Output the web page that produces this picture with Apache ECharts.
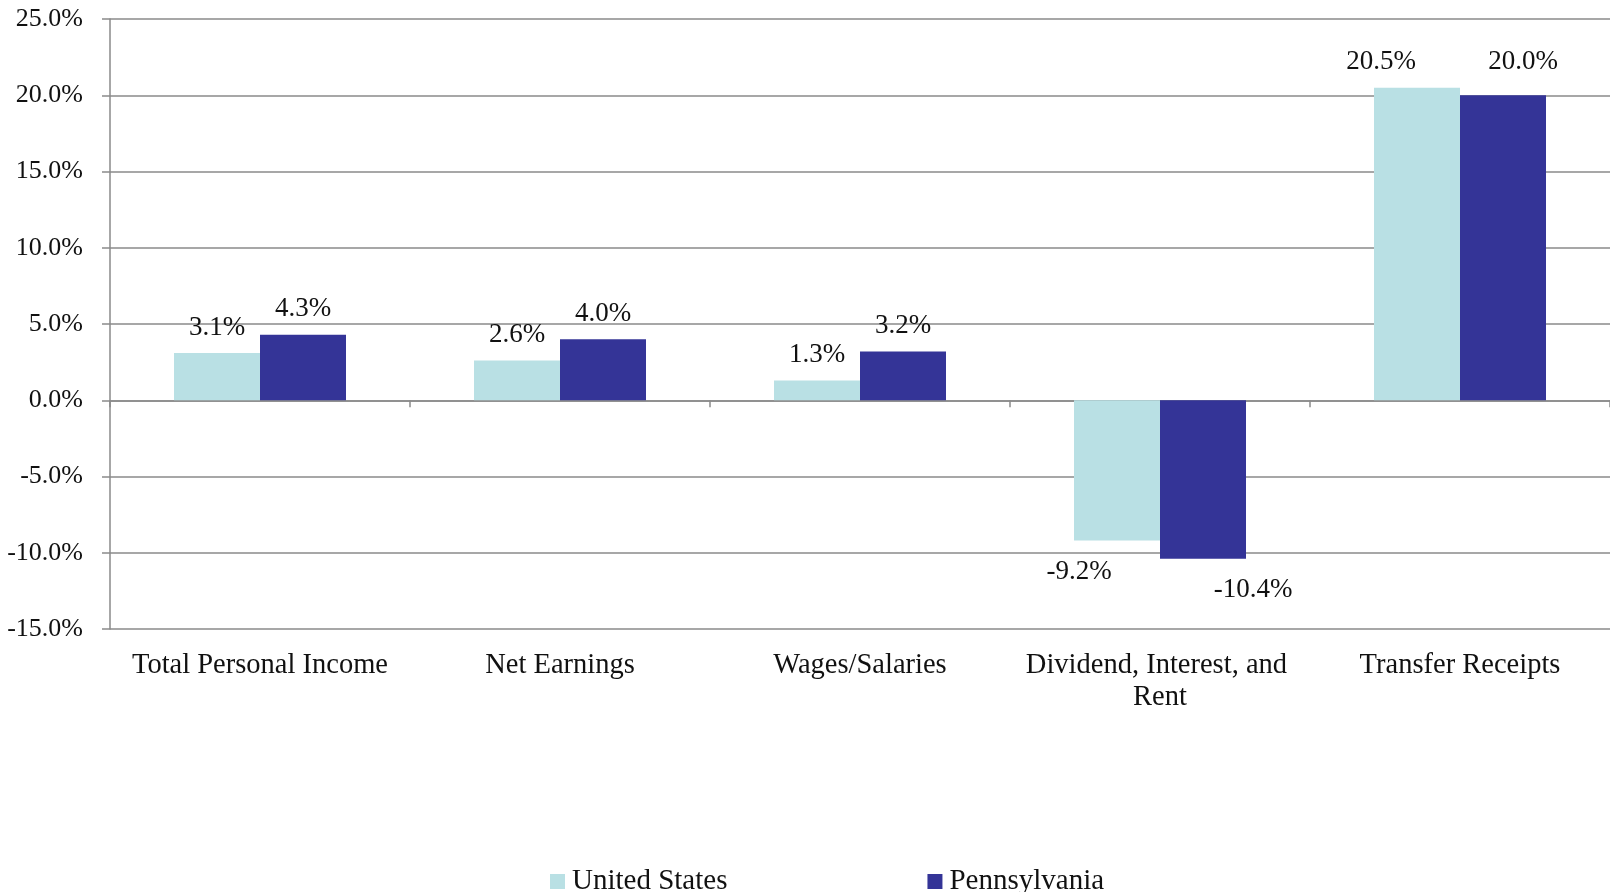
<!DOCTYPE html>
<html>
<head>
<meta charset="utf-8">
<script src="https://cdn.jsdelivr.net/npm/echarts@6/dist/echarts.min.js"></script>
<style>
html,body{margin:0;padding:0;background:#fff;}
#chart{width:1610px;height:892px;}
</style>
</head>
<body>
<div id="chart"></div>
<script>
const categories = ['Total Personal Income', 'Net Earnings', 'Wages/Salaries', 'Dividend, Interest, and Rent', 'Transfer Receipts'];
const unitedStates = [3.1, 2.6, 1.3, -9.2, 20.5];
const pennsylvania = [4.3, 4.0, 3.2, -10.4, 20.0];
const yTicks = [-15, -10, -5, 0, 5, 10, 15, 20, 25];

// label nudges (styling only), keyed by category index
const usLabelOffsets = { 3: [-38, 0], 4: [-36, 0] };
const paLabelOffsets = { 3: [50, 0], 4: [20, -8] };

const FONT = '"Liberation Serif", serif';
const TXT = '#111111';
const GRID = '#8a8a8a';

function buildData(values, offsets) {
  return values.map((v, i) => {
    const item = { value: v, label: {} };
    if (v < 0) { item.label.position = 'bottom'; item.label.distance = 18; }
    if (offsets[i]) item.label.offset = offsets[i];
    return item;
  });
}

const chart = echarts.init(document.getElementById('chart'), null, { renderer: 'canvas' });
const labelCommon = {
  show: true, position: 'top', distance: 12,
  fontFamily: FONT, fontSize: 27, color: TXT,
  formatter: p => p.value.toFixed(1) + '%'
};
chart.setOption({
  animation: false,
  backgroundColor: '#fff',
  grid: { left: 110, right: 0, top: 19, bottom: 263, containLabel: false },
  legend: {
    top: 862, left: 545, itemGap: 200, itemWidth: 15, itemHeight: 15,
    icon: 'rect',
    textStyle: { fontFamily: FONT, fontSize: 29, color: TXT, padding: [0, 0, 0, 2] },
    data: ['United States', 'Pennsylvania']
  },
  xAxis: [{
    type: 'category', data: categories, position: 'bottom',
    axisLine: { show: false, onZero: false },
    axisTick: { show: false },
    axisLabel: {
      interval: 0, margin: 21, fontFamily: FONT, fontSize: 28.5, color: TXT,
      width: 285, overflow: 'break', lineHeight: 32
    }
  }, {
    type: 'category', data: categories, position: 'bottom',
    axisLine: { show: true, onZero: true, lineStyle: { color: GRID, width: 1.5 } },
    axisTick: { show: true, length: 7, lineStyle: { color: GRID, width: 1.5 } },
    axisLabel: { show: false }
  }],
  yAxis: {
    type: 'value', min: yTicks[0], max: yTicks[yTicks.length - 1], interval: 5,
    axisLine: { show: true, lineStyle: { color: GRID, width: 1.5 } },
    axisTick: { show: true, length: 8, lineStyle: { color: GRID, width: 1.5 } },
    splitLine: { show: true, lineStyle: { color: GRID, width: 1.5 } },
    axisLabel: {
      margin: 27, fontFamily: FONT, fontSize: 26, color: TXT,
      formatter: v => v.toFixed(1) + '%'
    }
  },
  series: [{
    name: 'United States', type: 'bar', xAxisIndex: 0,
    data: buildData(unitedStates, usLabelOffsets),
    barWidth: 86, barGap: '0%',
    itemStyle: { color: '#b9e0e4' },
    label: labelCommon
  }, {
    name: 'Pennsylvania', type: 'bar', xAxisIndex: 0,
    data: buildData(pennsylvania, paLabelOffsets),
    barWidth: 86, barGap: '0%',
    itemStyle: { color: '#343497' },
    label: labelCommon
  }]
});
</script>
</body>
</html>
